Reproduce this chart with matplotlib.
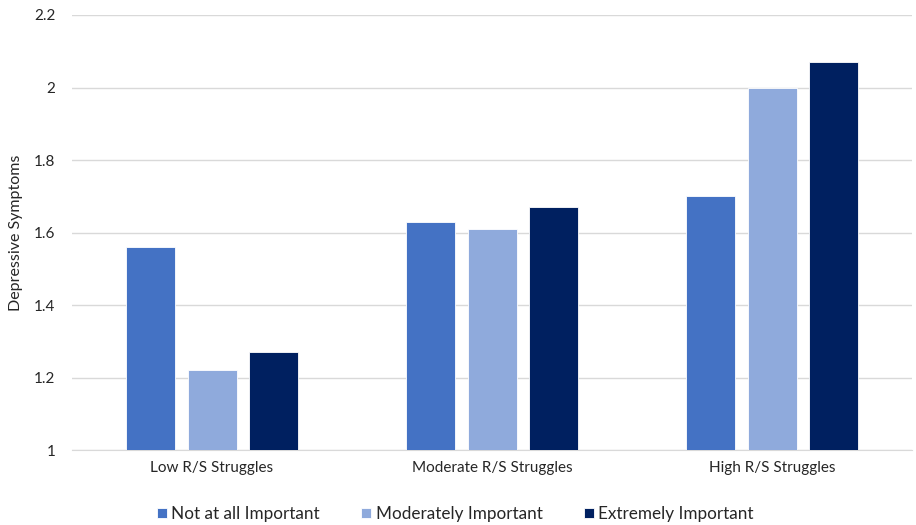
import numpy as np
import matplotlib.pyplot as plt

plt.rcParams['font.family'] = ['Lato', 'DejaVu Sans']

# chart data
groups = ['Low R/S Struggles', 'Moderate R/S Struggles', 'High R/S Struggles']
series = ['Not at all Important', 'Moderately Important', 'Extremely Important']
not_important = [1.56, 1.63, 1.70]
moderately_important = [1.22, 1.61, 2.00]
extremely_important = [1.27, 1.67, 2.07]
yticks = [1, 1.2, 1.4, 1.6, 1.8, 2, 2.2]
ytick_labels = ['1', '1.2', '1.4', '1.6', '1.8', '2', '2.2']

colors = ['#4472C4', '#8FAADC', '#002060']

fig = plt.figure(figsize=(9.16, 5.25), dpi=100)
ax = fig.add_axes([72/916, 75/525, 840/916, 435/525])

x = np.arange(len(groups))
width = 0.175
offset = 0.221
for i, (vals, name) in enumerate(zip([not_important, moderately_important, extremely_important], series)):
	ax.bar(x + (i - 1)*offset, vals, width, bottom=0, color=colors[i], label=name,
		edgecolor='white', linewidth=0.6, zorder=3)

ax.set_xlim(-0.5, 2.5)
ax.set_ylim(1, 2.2)
ax.set_yticks(yticks)
ax.set_yticklabels(ytick_labels)
ax.set_xticks(x)
ax.set_xticklabels(groups)
ax.tick_params(axis='both', length=0, labelsize=11, colors='#262626', pad=8)
ax.tick_params(axis='y', pad=12)
ax.grid(axis='y', color='#d9d9d9', linewidth=1, zorder=0)
for s in ['top', 'right', 'left']:
	ax.spines[s].set_visible(False)
ax.spines['bottom'].set_color('#d9d9d9')
ax.set_ylabel('Depressive Symptoms', fontsize=11.5, color='#262626', labelpad=8)

# legend is centred on the whole chart, not the plot area
fig.legend(*ax.get_legend_handles_labels(), loc='center', bbox_to_anchor=(0.497, 1 - 514/525),
	ncol=3, frameon=False, fontsize=12.3, handlelength=0.6, handleheight=0.6,
	handletextpad=0.25, columnspacing=2.4, labelcolor='#262626')

fig.savefig('out.png', dpi=100)
